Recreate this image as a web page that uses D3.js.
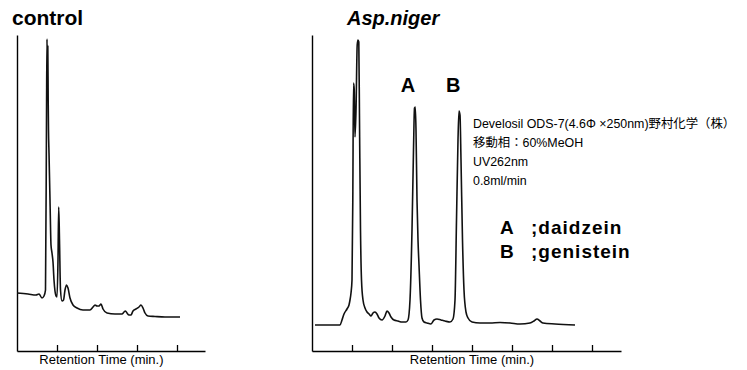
<!DOCTYPE html>
<html>
<head>
<meta charset="utf-8">
<script src="https://cdn.jsdelivr.net/npm/d3@7"></script>
<style>
  body { margin: 0; background: #fff; }
  svg { display: block; }
  text { font-family: "Liberation Sans", Arial, sans-serif; fill: #000; }
  .jp { font-family: "Liberation Sans", "Noto Sans CJK JP", sans-serif; }
</style>
</head>
<body>
<div id="chart"></div>
<script>
// retention time (tick units) and detector response
var controlTime = [0, 0.275, 0.475, 0.55, 0.625, 0.675, 0.7125, 0.7375, 0.75, 0.76, 0.77, 0.78, 0.7875, 0.8, 0.825, 0.85, 0.875, 0.9, 0.925, 0.975, 1.0, 1.025, 1.0425, 1.0625, 1.0875, 1.125, 1.1625, 1.2, 1.2375, 1.275, 1.325, 1.4, 1.5, 1.65, 1.825, 1.9, 1.95, 2.0, 2.05, 2.1, 2.15, 2.25, 2.45, 2.625, 2.675, 2.7125, 2.75, 2.8, 2.85, 2.9, 2.975, 3.05, 3.1, 3.15, 3.2, 3.275, 3.45, 3.7, 4.075];
var controlSignal = [58, 57, 56, 57, 53, 55, 61, 231, 312, 280, 305, 250, 221, 198, 151, 106, 98, 89, 71, 55, 54, 91, 144, 111, 61, 50, 51, 61, 66, 63, 53, 46, 43, 41, 41, 44, 46, 45, 45, 47, 42, 38, 37, 37, 39, 40, 38, 36, 36, 40, 42, 44, 46, 43, 38, 35, 34.5, 34, 34];

var nigerTime = [0.075, 0.45, 0.7, 0.75, 0.8, 0.875, 0.925, 0.95, 0.975, 1.0, 1.02, 1.0375, 1.055, 1.075, 1.1, 1.13, 1.15, 1.17, 1.1875, 1.2125, 1.2375, 1.275, 1.325, 1.375, 1.425, 1.475, 1.525, 1.575, 1.625, 1.675, 1.75, 1.825, 1.875, 1.925, 1.975, 2.05, 2.15, 2.25, 2.35, 2.4, 2.45, 2.5, 2.5375, 2.5625, 2.5825, 2.6, 2.625, 2.65, 2.675, 2.7125, 2.75, 2.8, 2.875, 2.975, 3.05, 3.125, 3.225, 3.325, 3.45, 3.525, 3.575, 3.6125, 3.65, 3.675, 3.7, 3.725, 3.7625, 3.8, 3.85, 3.9, 4.0, 4.2, 4.45, 4.7, 4.95, 5.2, 5.45, 5.55, 5.625, 5.7, 5.775, 6.075, 6.575];
var nigerSignal = [26, 26, 26, 31, 37, 42, 46, 51, 58, 71, 151, 268, 262, 214, 240, 306, 311, 309, 231, 121, 71, 51, 43, 39, 37, 35, 38, 39, 37, 33, 31, 35, 40, 38, 34, 31, 30, 29, 29, 31, 51, 121, 201, 243, 244, 221, 151, 111, 86, 51, 33, 29, 28, 27, 31, 32, 31, 30, 29, 32, 51, 131, 211, 240, 236, 191, 111, 61, 39, 33, 29, 28, 28, 28.5, 28, 27, 28, 30, 32, 30, 28, 27, 26];

var controlTicks = [1, 2, 3, 4];
var nigerTicks = [1, 2, 3, 4, 5, 6, 7];
var peakLabels = ["A", "B"];
var peakTimes = [2.4, 3.53];
var notes = ["Develosil ODS-7(4.6\u03a6 \u00d7250nm)野村化学（株）", "移動相\uff1a60%MeOH", "UV262nm", "0.8ml/min"];
var legendKeys = ["A", "B"];
var legendNames = [";daidzein", ";genistein"];

var W = 747, H = 370;
var svg = d3.select("#chart").append("svg")
    .attr("width", W)
    .attr("height", H);

var y = d3.scaleLinear().domain([0, 316]).range([351, 35]);

function drawPanel(opts) {
    var x = d3.scaleLinear().domain(opts.domain).range(opts.range);
    var g = svg.append("g");

    var xAxis = d3.axisBottom(x)
        .tickValues(opts.ticks)
        .tickSizeInner(-6)
        .tickSizeOuter(0)
        .tickFormat("");
    var gx = g.append("g")
        .attr("transform", "translate(0," + y(0) + ")")
        .call(xAxis);
    gx.select(".domain").attr("stroke", "#000").attr("stroke-width", 1.4);
    gx.selectAll(".tick line").attr("stroke", "#000").attr("stroke-width", 1.3);

    var yAxis = d3.axisLeft(y).tickValues([]).tickSizeOuter(0);
    var gy = g.append("g")
        .attr("transform", "translate(" + opts.range[0] + ",0)")
        .call(yAxis);
    gy.select(".domain").attr("stroke", "#000").attr("stroke-width", 1.4);

    g.append("text")
        .attr("x", x(opts.labelAt))
        .attr("y", 364)
        .attr("text-anchor", "middle")
        .attr("font-size", "13")
        .text("Retention Time (min.)");

    var pts = opts.time.map(function (t, i) { return [t, opts.signal[i]]; });
    var line = d3.line()
        .x(function (d) { return x(d[0]); })
        .y(function (d) { return y(d[1]); })
        .curve(d3.curveMonotoneX);
    g.append("path")
        .datum(pts)
        .attr("d", line)
        .attr("fill", "none")
        .attr("stroke", "#111")
        .attr("stroke-width", 1.6)
        .attr("stroke-linejoin", "round");

    g.append("text")
        .attr("x", opts.titleX)
        .attr("y", 25)
        .attr("font-size", opts.titleSize)
        .attr("font-weight", "bold")
        .attr("font-style", opts.italic ? "italic" : "normal")
        .text(opts.title);

    return x;
}

drawPanel({
    domain: [0, 4.7], range: [17, 205], ticks: controlTicks,
    time: controlTime, signal: controlSignal, labelAt: 2.11,
    title: "control", titleX: 12, titleSize: 21, italic: false
});

var xN = drawPanel({
    domain: [0, 7.725], range: [312, 621], ticks: nigerTicks,
    time: nigerTime, signal: nigerSignal, labelAt: 4.0,
    title: "Asp.niger", titleX: 347, titleSize: 20, italic: true
});

// peak letters above A and B
svg.selectAll(".peak")
    .data(peakLabels)
    .enter().append("text")
    .attr("class", "peak")
    .attr("x", function (d, i) { return xN(peakTimes[i]); })
    .attr("y", 92)
    .attr("text-anchor", "middle")
    .attr("font-size", "20")
    .attr("font-weight", "bold")
    .text(function (d) { return d; });

// conditions
svg.selectAll(".note")
    .data(notes)
    .enter().append("text")
    .attr("class", "note jp")
    .attr("x", 473)
    .attr("y", function (d, i) { return 128 + i * 19; })
    .attr("font-size", "12.4")
    .text(function (d) { return d; });

// compound key
legendKeys.forEach(function (k, i) {
    svg.append("text")
        .attr("x", 500)
        .attr("y", 234 + i * 24)
        .attr("font-size", "19")
        .attr("font-weight", "bold")
        .text(k);
    svg.append("text")
        .attr("x", 531)
        .attr("y", 234 + i * 24)
        .attr("font-size", "19")
        .attr("font-weight", "bold")
        .attr("letter-spacing", "1")
        .text(legendNames[i]);
});
</script>
</body>
</html>
